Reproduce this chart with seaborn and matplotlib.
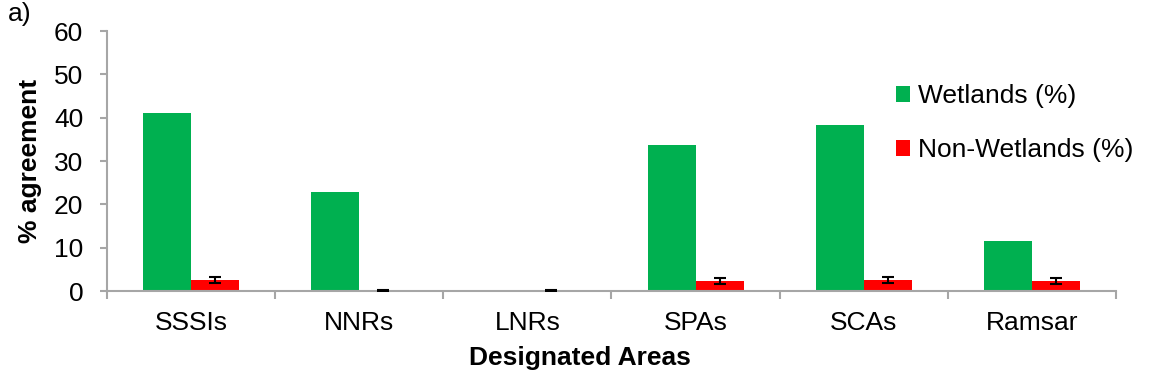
import matplotlib
matplotlib.use("Agg")
import matplotlib.pyplot as plt
import seaborn as sns
import pandas as pd
import numpy as np
from matplotlib.ticker import FixedLocator

categories = ["SSSIs", "NNRs", "LNRs", "SPAs", "SCAs", "Ramsar"]
wetlands = [41.0, 22.8, 0.0, 33.6, 38.4, 11.5]
non_wetlands = [2.5, 0.15, 0.05, 2.3, 2.5, 2.4]
non_wetlands_err = [0.7, 0.1, 0.1, 0.7, 0.7, 0.7]
series_names = ["Wetlands (%)", "Non-Wetlands (%)"]
colors = ["#00B050", "#FF0000"]
yticks = [0, 10, 20, 30, 40, 50, 60]

sns.set_style("white")
plt.rcParams['font.family'] = ['Liberation Sans', 'DejaVu Sans']
plt.rcParams['text.color'] = 'black'
plt.rcParams['axes.labelcolor'] = 'black'

FS = 19

df = pd.DataFrame({
    "area": categories * 2,
    "value": wetlands + non_wetlands,
    "series": [series_names[0]] * len(categories) + [series_names[1]] * len(categories),
})

fig = plt.figure(figsize=(11.49, 3.83), dpi=100)
ax = fig.add_axes([0.0931, 0.240, 0.8782, 0.679])

sns.barplot(data=df, x="area", y="value", hue="series", palette=colors,
            width=0.571, errorbar=None, ax=ax, saturation=1.0, linewidth=0)

# error bars on the non-wetland bars
red_container = ax.containers[1]
xs = [p.get_x() + p.get_width() / 2 for p in red_container.patches]
ax.errorbar(xs, non_wetlands, yerr=non_wetlands_err, fmt="none",
            ecolor="black", elinewidth=1.5, capsize=4.3, capthick=1.5, zorder=5)

ax.set_ylim(0, 60)
ax.set_xlim(-0.5, len(categories) - 0.5)
ax.set_yticks(yticks)

gray = "#A6A6A6"
for side in ["top", "right"]:
    ax.spines[side].set_visible(False)
for side in ["left", "bottom"]:
    ax.spines[side].set_color(gray)
    ax.spines[side].set_linewidth(1.5)

ax.tick_params(axis="y", direction="out", length=5, width=1.5, color=gray,
               labelsize=FS, labelcolor="black", left=True, pad=12)
ax.tick_params(axis="x", which="major", length=0, labelsize=FS,
               labelcolor="black", pad=14)
ax.xaxis.set_minor_locator(FixedLocator(np.arange(-0.5, len(categories), 1.0)))
ax.tick_params(axis="x", which="minor", direction="out", length=5.8, width=1.5,
               color=gray, bottom=True)

ax.set_xlabel("Designated Areas", fontsize=FS, fontweight="bold", labelpad=8.5)
ax.xaxis.label.set_x(0.469)
ax.set_ylabel("% agreement", fontsize=FS, fontweight="bold", labelpad=8.5)

leg = ax.legend(loc="upper left", bbox_to_anchor=(0.758, 0.888), frameon=False,
                fontsize=FS, handlelength=0.55, handleheight=0.55,
                labelspacing=1.15, handletextpad=0.3)

fig.text(0.007, 0.995, "a)", fontsize=FS, va="top", ha="left")

fig.savefig("out.png", dpi=100)
